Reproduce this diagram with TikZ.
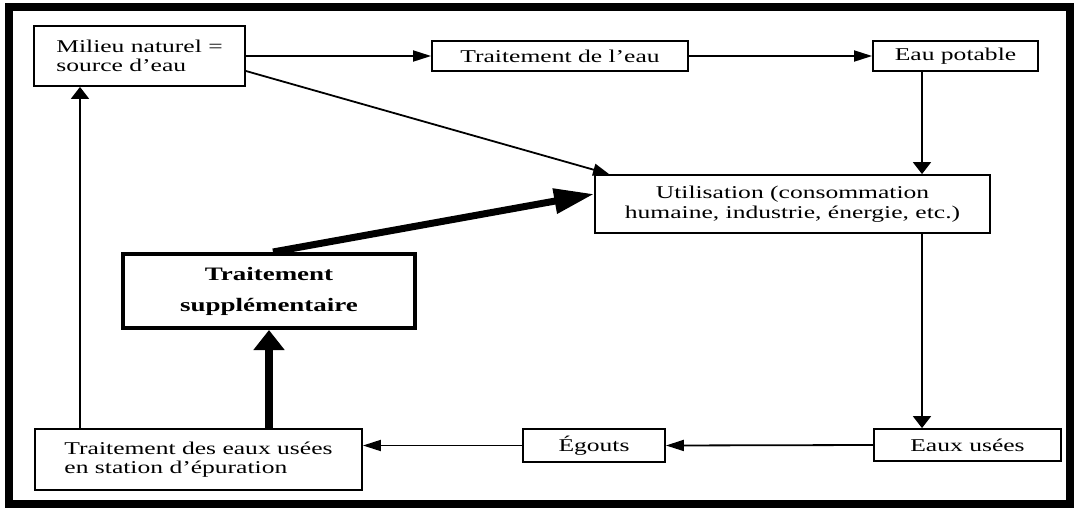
\documentclass[tikz,border=0pt]{standalone}
\usepackage{fontspec}
\setmainfont{Liberation Serif}[FakeStretch=1.42]
\usetikzlibrary{arrows.meta}

\tikzset{
  boite/.style={draw, line width=0.9pt, inner sep=0pt, align=center,
    font=\fontsize{9}{9.8}\selectfont},
  fleche/.style={line width=0.9pt, -{Triangle[length=9pt,width=5.5pt]}},
  flechev/.style={line width=0.9pt, -{Triangle[length=6pt,width=9pt]}},
  grosse/.style={line width=4pt, -{Triangle[length=10pt,width=15pt]}},
}

\begin{document}
\begin{tikzpicture}[x=0.5pt,y=-0.5pt]
  \useasboundingbox (0,0) rectangle (1078,509);
  \draw[line width=4pt] (9,7) rectangle (1070,504);

  % boites
  \node[boite, align=left, minimum width=105.5pt, minimum height=30pt] (milieu) at (139.5,56) {Milieu naturel =\\source d’eau};
  \node[boite, minimum width=128pt, minimum height=15pt] (traitement) at (560,56) {Traitement de l’eau};
  \node[boite, minimum width=82.5pt, minimum height=15pt] (potable) at (955.5,56) {Eau potable};
  \node[boite, minimum width=197.5pt, minimum height=29pt] (utilisation) at (792.5,204) {Utilisation (consommation\\humaine, industrie, énergie, etc.)};
  \node[boite, line width=2pt, font=\bfseries\fontsize{9.5}{15.5}\selectfont, minimum width=146pt, minimum height=37pt] (supp) at (269,291) {Traitement\\supplémentaire};
  \node[boite, align=left, minimum width=163.5pt, minimum height=30.5pt] (station) at (198.5,459.5) {Traitement des eaux usées\\en station d’épuration};
  \node[boite, minimum width=71pt, minimum height=16.5pt] (egouts) at (594,445.5) {Égouts};
  \node[boite, minimum width=93.5pt, minimum height=16pt] (usees) at (967.5,445) {Eaux usées};

  \coordinate (axe) at (922,0);
  \coordinate (retour) at (80,0);

  % fleches
  \draw[fleche] (milieu.east) -- (traitement.west);
  \draw[fleche] (traitement.east) -- (potable.west);
  \draw[flechev] (potable.south -| axe) -- (utilisation.north -| axe);
  \draw[flechev] (utilisation.south -| axe) -- (usees.north -| axe);
  \draw[fleche] (usees.west) -- (egouts.east);
  \draw[fleche] (egouts.west) -- (egouts.west -| station.east);
  \draw[flechev] (station.north -| retour) -- (milieu.south -| retour);
  \draw[line width=0.9pt, -{Triangle[length=8pt,width=6pt]}] ([yshift=-7.5pt]milieu.east) -- ([xshift=7.5pt]utilisation.north west);
  \draw[grosse] (station.north -| supp.south) -- (supp.south);
  \draw[line width=3.5pt, -{Triangle[length=20pt,width=12pt]}] ([xshift=2pt]supp.north) -- ([yshift=5pt]utilisation.west);
\end{tikzpicture}
\end{document}
